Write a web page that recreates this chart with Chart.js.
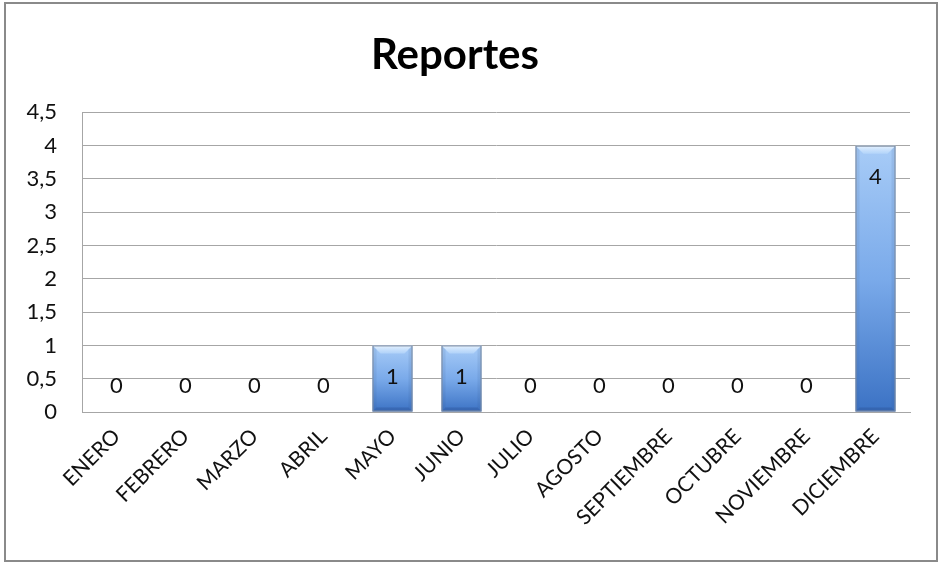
<!DOCTYPE html>
<html>
<head>
<meta charset="utf-8">
<script src="https://cdn.jsdelivr.net/npm/chart.js@4"></script>
<style>
  html, body { margin: 0; padding: 0; background: #fff; }
  #wrap { position: absolute; left: 0; top: 0; width: 942px; height: 563px; }
</style>
</head>
<body>
<div id="wrap"><canvas id="reportes"></canvas></div>
<script>
// Reportes por mes
const meses = ["ENERO", "FEBRERO", "MARZO", "ABRIL", "MAYO", "JUNIO", "JULIO",
               "AGOSTO", "SEPTIEMBRE", "OCTUBRE", "NOVIEMBRE", "DICIEMBRE"];
const reportes = [0, 0, 0, 0, 1, 1, 0, 0, 0, 0, 0, 4];
const yMin = 0;
const yMax = 4.5;
const yStep = 0.5;

const FONT = "Lato, 'Open Sans', sans-serif";

// marco exterior del gráfico
const marco = {
    id: "marco",
    afterDraw(chart) {
        const c = chart.ctx;
        c.save();
        c.strokeStyle = "#8a8a8a";
        c.lineWidth = 2;
        c.strokeRect(5, 3, 932, 558);
        c.restore();
    }
};

// bisel de las barras + etiquetas con el valor
const biselYEtiquetas = {
    id: "biselYEtiquetas",
    afterDatasetsDraw(chart) {
        const c = chart.ctx;
        const meta = chart.getDatasetMeta(0);
        c.save();
        meta.data.forEach((bar, i) => {
            const v = reportes[i];
            const { x, y, base, width } = bar.getProps(["x", "y", "base", "width"], true);
            const l = x - width / 2, r = x + width / 2;
            if (v > 0) {
                const b = 8;
                // borde superior claro
                const g = c.createLinearGradient(0, y, 0, y + b);
                g.addColorStop(0, "rgba(235,245,255,0.95)");
                g.addColorStop(1, "rgba(190,220,252,0.6)");
                c.fillStyle = g;
                c.beginPath();
                c.moveTo(l, y); c.lineTo(r, y); c.lineTo(r - b, y + b); c.lineTo(l + b, y + b);
                c.closePath(); c.fill();
                // laterales
                c.fillStyle = "rgba(60,90,140,0.12)";
                c.beginPath();
                c.moveTo(l, y); c.lineTo(l + 4, y + 4); c.lineTo(l + 4, base - 4); c.lineTo(l, base);
                c.closePath(); c.fill();
                c.beginPath();
                c.moveTo(r, y); c.lineTo(r - 4, y + 4); c.lineTo(r - 4, base - 4); c.lineTo(r, base);
                c.closePath(); c.fill();
                // base oscura
                c.fillStyle = "rgba(30,60,120,0.25)";
                c.beginPath();
                c.moveTo(l, base); c.lineTo(r, base); c.lineTo(r - 4, base - 4); c.lineTo(l + 4, base - 4);
                c.closePath(); c.fill();
                // contorno
                c.strokeStyle = "#7d8ba0";
                c.lineWidth = 1;
                c.strokeRect(l + 0.5, y + 0.5, width - 1, base - y - 1);
            }
            c.fillStyle = "#111";
            c.font = "22px " + FONT;
            c.textAlign = "center";
            c.textBaseline = "middle";
            c.fillText(String(v), x, v > 0 ? y + 31 : y - 26);
        });
        c.restore();
    }
};

function degradado(context) {
    const chart = context.chart;
    const ys = chart.scales.y;
    if (!ys || context.dataIndex === undefined) return "#6a9ee0";
    const top = ys.getPixelForValue(reportes[context.dataIndex]);
    const base = ys.getPixelForValue(0);
    if (!isFinite(top) || top === base) return "#6a9ee0";
    const g = chart.ctx.createLinearGradient(0, top, 0, base);
    g.addColorStop(0, "#a8ccf7");
    g.addColorStop(0.5, "#7aaaea");
    g.addColorStop(1, "#3b72c4");
    return g;
}

new Chart(document.getElementById("reportes"), {
    type: "bar",
    data: {
        labels: meses,
        datasets: [{
            label: "Reportes",
            data: reportes,
            backgroundColor: degradado,
            borderWidth: 0,
            barPercentage: 0.58,
            categoryPercentage: 1
        }]
    },
    options: {
        responsive: true,
        maintainAspectRatio: false,
        animation: false,
        layout: { padding: { top: 0, right: 32, bottom: 0, left: 0 } },
        plugins: {
            legend: { display: false },
            tooltip: { enabled: false },
            title: {
                display: true,
                text: "Reportes",
                color: "#000",
                font: { family: FONT, size: 42, weight: "bold", lineHeight: 1.2 },
                padding: { top: 30, bottom: 32 }
            }
        },
        scales: {
            x: {
                grid: { display: false },
                border: { display: true, color: "#a6a6a6" },
                ticks: {
                    color: "#111",
                    font: { family: FONT, size: 21 },
                    minRotation: 45,
                    maxRotation: 45,
                    padding: 4
                },
                afterFit(s) { s.height = 151; }
            },
            y: {
                min: yMin,
                max: yMax,
                grid: { color: "#a6a6a6", drawTicks: false },
                border: { display: true, color: "#a6a6a6" },
                ticks: {
                    stepSize: yStep,
                    color: "#111",
                    font: { family: FONT, size: 22 },
                    padding: 25,
                    callback: v => String(v).replace(".", ",")
                },
                afterFit(s) { s.width = 82; }
            }
        }
    },
    plugins: [marco, biselYEtiquetas]
});
</script>
</body>
</html>
